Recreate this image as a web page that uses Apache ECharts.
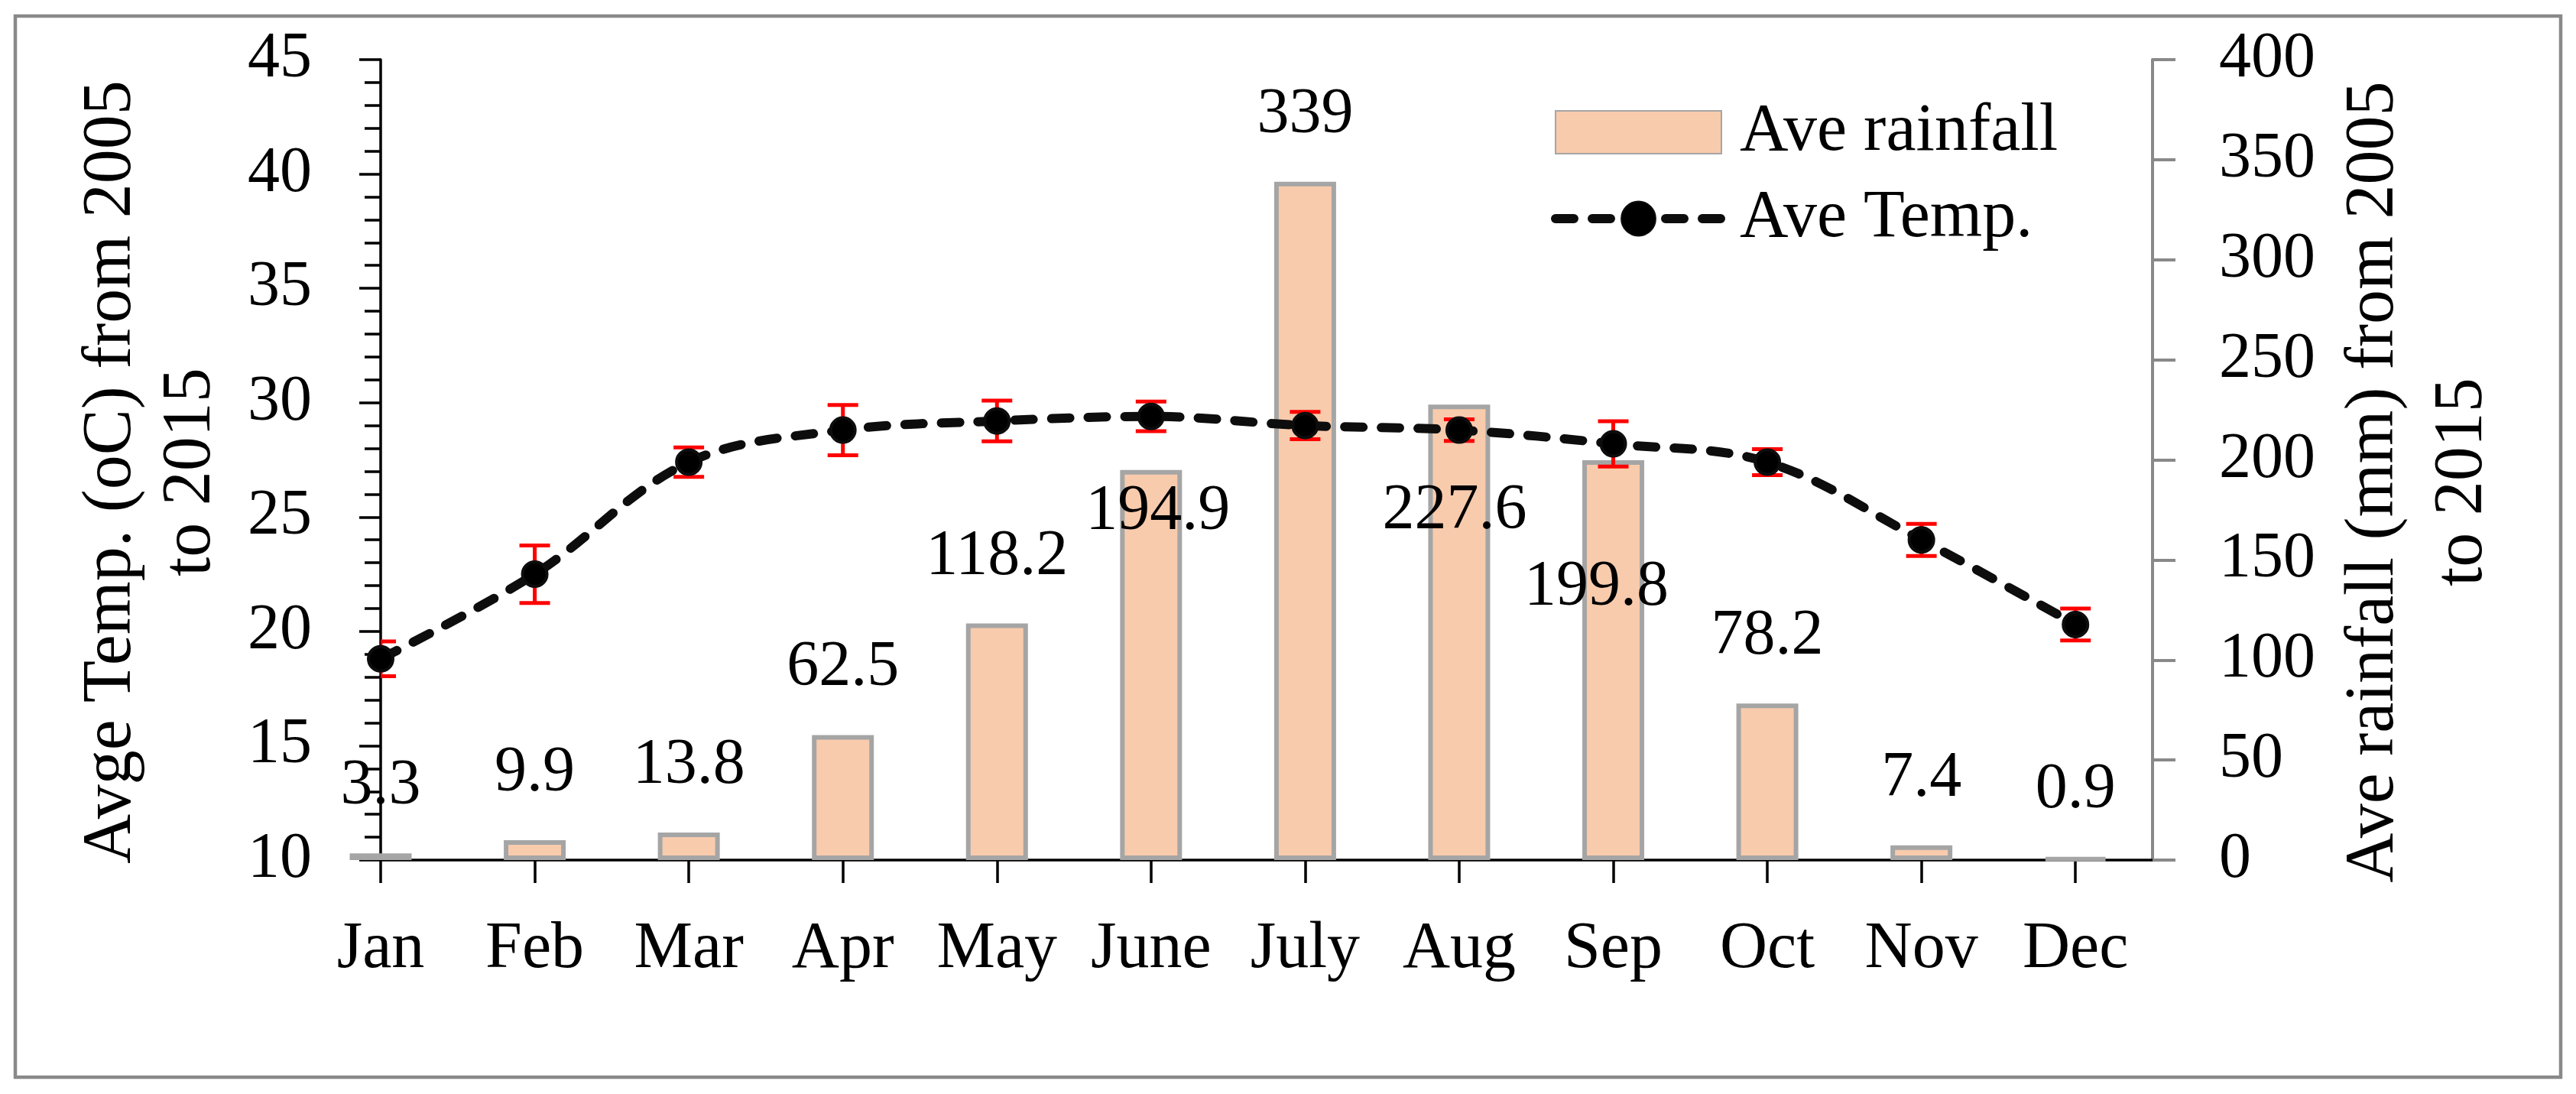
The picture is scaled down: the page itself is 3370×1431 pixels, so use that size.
<!DOCTYPE html>
<html><head><meta charset="utf-8">
<script src="https://cdn.jsdelivr.net/npm/echarts@6/dist/echarts.min.js"></script>
<style>html,body{margin:0;padding:0;background:#fff}#c{width:3370px;height:1431px}</style>
</head><body><div id="c"></div>
<script>
// ---- data ----
const months = ['Jan', 'Feb', 'Mar', 'Apr', 'May', 'June', 'July', 'Aug', 'Sep', 'Oct', 'Nov', 'Dec'];
const rainfall = [3.3, 9.9, 13.8, 62.5, 118.2, 194.9, 339, 227.6, 199.8, 78.2, 7.4, 0.9];
const temperature = [18.8, 22.5, 27.4, 28.8, 29.2, 29.4, 29.0, 28.8, 28.2, 27.4, 24.0, 20.3];
const tempError = [0.76, 1.26, 0.64, 1.1, 0.89, 0.65, 0.6, 0.47, 0.99, 0.57, 0.7, 0.7];

// ---- style config (label nudges for manually moved labels) ----
const labelNudge = { 5: [9, 142], 7: [-6, 227], 8: [-22, 254] };

const FONT = 'Liberation Serif';
const FS = 84;
const NFS = 90;
const idx = months.map((m, i) => i);

const rainData = rainfall.map((v, i) => {
  const item = { value: [i, v] };
  if (labelNudge[i]) item.label = { offset: labelNudge[i] };
  return item;
});
const tempData = temperature.map((v, i) => [i, v]);
const errData = temperature.map((v, i) => [i, v - tempError[i], v + tempError[i]]);

const lineStyleTemp = { color: '#0d0d0d', width: 12, type: [24, 24], cap: 'round' };

const chart = echarts.init(document.getElementById('c'));
chart.setOption({
  animation: false,
  backgroundColor: '#fff',
  textStyle: { fontFamily: FONT, color: '#000' },
  graphic: [{
    type: 'rect', shape: { x: 20, y: 21, width: 3330, height: 1388 },
    style: { fill: 'none', stroke: '#898989', lineWidth: 4.5 }, z: -1
  }],
  grid: { left: 498, right: 554, top: 78, bottom: 306 },
  legend: {
    orient: 'vertical', left: 2029, top: 129, padding: 0,
    itemWidth: 217, itemHeight: 56, itemGap: 25,
    textStyle: { fontFamily: FONT, fontSize: 88, color: '#000', lineHeight: 85, padding: [0, 0, 0, 19] },
    data: [
      { name: 'Ave rainfall', icon: 'rect' },
      { name: 'Ave Temp.', lineStyle: { color: '#0d0d0d', width: 12, type: [24, 24], cap: 'round' } }
    ]
  },
  xAxis: {
    type: 'value', min: 0, max: 11.5,
    axisLine: { show: true, lineStyle: { color: '#000', width: 3.5 } },
    axisTick: { show: true, customValues: idx, length: 30, lineStyle: { color: '#000', width: 3.5 } },
    axisLabel: { customValues: idx, formatter: v => months[v] || '', margin: 74, fontFamily: FONT, fontSize: 86, color: '#000' },
    splitLine: { show: false }
  },
  yAxis: [{
    type: 'value', min: 10, max: 45, interval: 5, position: 'left',
    name: 'Avge Temp. (oC) from 2005\nto 2015', nameLocation: 'middle', nameRotate: 90, nameGap: 196,
    nameTextStyle: { fontFamily: FONT, fontSize: NFS, color: '#000', lineHeight: 104, padding: [0, 32, 0, 0] },
    axisLine: { show: true, lineStyle: { color: '#000', width: 3.5 } },
    axisTick: { show: true, length: 28, lineStyle: { color: '#000', width: 3.5 } },
    minorTick: { show: true, splitNumber: 5, length: 21, lineStyle: { color: '#000', width: 3.5 } },
    axisLabel: { margin: 90, fontFamily: FONT, fontSize: FS, color: '#000' },
    splitLine: { show: false }, minorSplitLine: { show: false }
  }, {
    type: 'value', min: 0, max: 400, interval: 50, position: 'right',
    name: 'Ave rainfall (mm) from 2005\nto 2015', nameLocation: 'middle', nameRotate: 90, nameGap: 232,
    nameTextStyle: { fontFamily: FONT, fontSize: NFS, color: '#000', lineHeight: 116, padding: [0, 58, 0, 0] },
    axisLine: { show: true, lineStyle: { color: '#898989', width: 4 } },
    axisTick: { show: true, length: 30, lineStyle: { color: '#898989', width: 4 } },
    axisLabel: { margin: 87, fontFamily: FONT, fontSize: FS, color: '#000' },
    splitLine: { show: false }
  }],
  series: [{
    name: 'Ave rainfall', type: 'bar', xAxisIndex: 0, yAxisIndex: 1,
    data: rainData, barWidth: 81, clip: true,
    itemStyle: { color: '#F8CBAD', borderColor: '#A5A5A5', borderWidth: 6 },
    label: { show: true, position: 'top', distance: 45, fontFamily: FONT, fontSize: FS, color: '#000' },
    z: 2
  }, {
    name: 'errors', type: 'custom', xAxisIndex: 0, yAxisIndex: 0, clip: true,
    data: errData, encode: { x: 0, y: [1, 2] },
    renderItem: function (params, api) {
      const x = api.value(0);
      const top = api.coord([x, api.value(2)]);
      const bot = api.coord([x, api.value(1)]);
      const h = 20;
      const st = { stroke: '#ff0000', lineWidth: 5 };
      return {
        type: 'group', children: [
          { type: 'line', shape: { x1: top[0], y1: top[1], x2: bot[0], y2: bot[1] }, style: st },
          { type: 'line', shape: { x1: top[0] - h, y1: top[1], x2: top[0] + h, y2: top[1] }, style: st },
          { type: 'line', shape: { x1: bot[0] - h, y1: bot[1], x2: bot[0] + h, y2: bot[1] }, style: st }
        ]
      };
    },
    z: 3
  }, {
    name: 'Ave Temp.', type: 'line', xAxisIndex: 0, yAxisIndex: 0,
    data: tempData, smooth: 0.35,
    symbol: 'circle', symbolSize: 32,
    lineStyle: lineStyleTemp,
    itemStyle: { color: '#000', borderColor: '#0d0d0d', borderWidth: 4 },
    z: 4
  }]
});
</script>
</body></html>
